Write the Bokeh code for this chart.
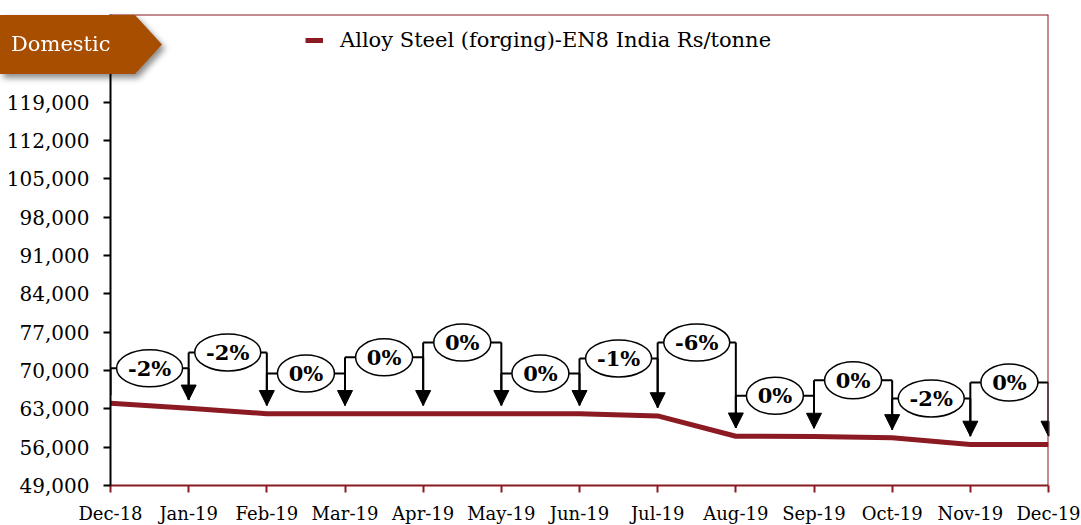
from bokeh.plotting import figure
from bokeh.models import (Range1d, FixedTicker, NumeralTickFormatter, Span, Arrow, NormalHead,
                          ColumnDataSource, Legend, Div)
from bokeh.layouts import column
from bokeh.embed import file_html
from bokeh.resources import INLINE
from bokeh.core.properties import value

# ---- data ----
months = ["Dec-18", "Jan-19", "Feb-19", "Mar-19", "Apr-19", "May-19", "Jun-19",
          "Jul-19", "Aug-19", "Sep-19", "Oct-19", "Nov-19", "Dec-19"]
prices = [64000, 63100, 62100, 62100, 62100, 62100, 62100,
          61700, 58000, 57950, 57700, 56500, 56500]
changes = ["-2%", "-2%", "0%", "0%", "0%", "0%", "-1%", "-6%", "0%", "0%", "-2%", "0%"]
label_levels = [70400, 73300, 69450, 72400, 75100, 69450, 72200, 75100, 65400, 68200, 64900, 67800]
y_ticks = [49000, 56000, 63000, 70000, 77000, 84000, 91000, 98000, 105000, 112000, 119000, 126000]
series_name = "Alloy Steel (forging)-EN8 India Rs/tonne"
badge_text = "Domestic"

RED = "#8B1A22"
BADGE = "#A84E00"
FONT = "DejaVu Serif"
GAP = 1500

x = list(range(len(months)))

p = figure(frame_width=938, frame_height=471,
           x_range=Range1d(0, len(months) - 1), y_range=Range1d(49000, 135000),
           output_backend="svg", toolbar_location=None,
           min_border_left=110, min_border_top=14, min_border_right=33, min_border_bottom=40,
           background_fill_color="white", border_fill_color="white")
p.outline_line_color = None
p.grid.visible = False

# axes
p.xaxis.ticker = FixedTicker(ticks=x)
p.xaxis.major_label_overrides = {i: m for i, m in enumerate(months)}
p.xaxis.axis_line_color = RED
p.xaxis.axis_line_width = 2
p.xaxis.major_tick_line_color = RED
p.xaxis.major_tick_line_width = 2
p.xaxis.major_tick_in = 0
p.xaxis.major_tick_out = 7
p.xaxis.minor_tick_line_color = None
p.xaxis.major_label_text_font = FONT
p.xaxis.major_label_text_font_size = "18px"
p.xaxis.major_label_text_color = "black"
p.xaxis.major_label_standoff = 10

p.yaxis.ticker = FixedTicker(ticks=y_ticks)
p.yaxis.formatter = NumeralTickFormatter(format="0,0")
p.yaxis.axis_line_color = "black"
p.yaxis.axis_line_width = 2
p.yaxis.major_tick_line_color = "black"
p.yaxis.major_tick_line_width = 2
p.yaxis.major_tick_in = 0
p.yaxis.major_tick_out = 7
p.yaxis.minor_tick_line_color = None
p.yaxis.major_label_text_font = FONT
p.yaxis.major_label_text_font_size = "20px"
p.yaxis.major_label_text_color = "black"
p.yaxis.major_label_standoff = 14

p.add_layout(Span(location=135000, dimension="width", line_color=RED, line_width=2))
p.add_layout(Span(location=len(months) - 1, dimension="height", line_color=RED, line_width=2))

# data line
r = p.line(x, prices, line_color=RED, line_width=5)

# callouts
xs0 = x[:-1]
xs1 = x[1:]
mid = [(a + b) / 2 for a, b in zip(xs0, xs1)]
p.segment(x0=xs0, y0=label_levels, x1=xs1, y1=label_levels, line_color="black", line_width=2)
p.segment(x0=xs0, y0=label_levels, x1=xs0, y1=[prices[i] + GAP for i in range(len(xs0))],
          line_color="black", line_width=2)
src = ColumnDataSource(dict(x=xs1, y0=label_levels, y1=[prices[i + 1] + GAP for i in range(len(xs1))]))
p.add_layout(Arrow(end=NormalHead(size=15, fill_color="black", line_color="black", line_width=1),
                   x_start="x", y_start="y0", x_end="x", y_end="y1", source=src,
                   line_color="black", line_width=2))
widths = [57 if len(c) == 2 else 66 for c in changes]
p.ellipse(x=mid, y=label_levels, width=widths, height=37, width_units="screen", height_units="screen",
          fill_color="white", line_color="black", line_width=1.5)
p.text(x=mid, y=label_levels, text=changes, text_font=value(FONT), text_font_style="bold",
       text_font_size="21px", text_align="center", text_baseline="middle", text_color="black")

# legend
legend = Legend(items=[(series_name, [r])], location=(195, 433), padding=0, margin=0,
                border_line_color=None, background_fill_alpha=0, glyph_width=18, glyph_height=6,
                label_standoff=17, label_text_font=FONT, label_text_font_size="21px",
                label_text_color="black")
p.add_layout(legend)

# "Domestic" badge overlaid as HTML
badge_html = (
    '<div style="filter: drop-shadow(3px 4px 3px rgba(0,0,0,0.45));">'
    '<div style="width:162px;height:59px;background:%s;'
    'clip-path:polygon(0 0,135px 0,162px 29.5px,135px 59px,0 59px);'
    'color:#ffffff;font-family:\'DejaVu Serif\';font-size:21px;line-height:59px;'
    'padding-left:11px;box-sizing:border-box;white-space:nowrap;">%s</div></div>'
) % (BADGE, badge_text)
badge = Div(text=badge_html, width=175, height=70,
            styles={"position": "absolute", "left": "-5px", "top": "10px", "z-index": "10"})

page = column(p, badge)

open("out.html", "w").write(file_html(page, INLINE))
